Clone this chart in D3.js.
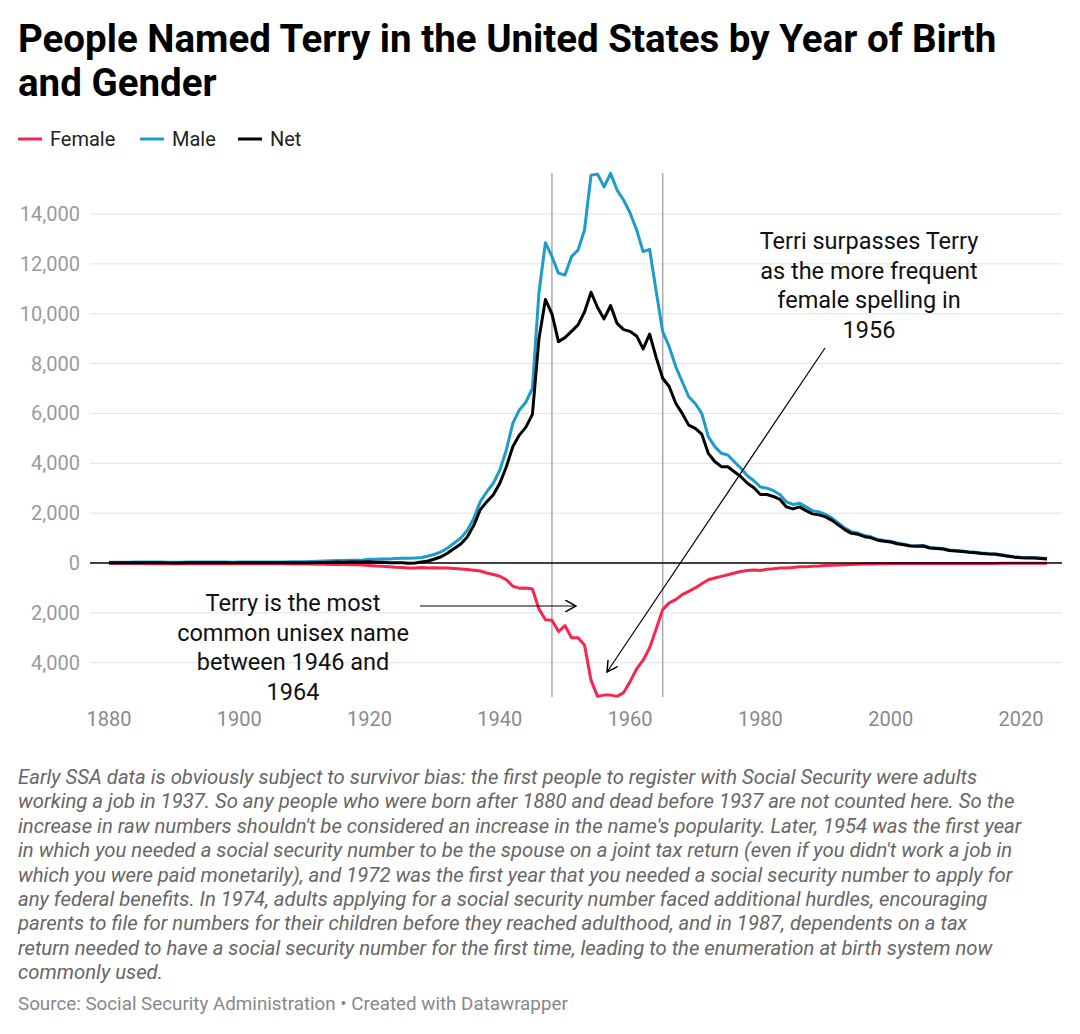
<!DOCTYPE html>
<html><head><meta charset="utf-8">
<script src="https://cdn.jsdelivr.net/npm/d3@7"></script>
<style>body{margin:0;background:#fff;font-family:Roboto,sans-serif}</style>
</head><body><svg id="c" width="1080" height="1034"></svg>
<script>
// data, one value per year 1880..2024
var startYear = 1880;
var male = [30,30,35,35,40,40,40,40,40,35, 35,35,40,40,40,40,40,40,40,35, 40,40,40,40,45,45,45,45,50,50,
  55,60,70,80,90,100,100,110,110,120, 150,150,160,160,180,190,190,200,220,280, 350,450,600,800,1000,1300,1800,2460,2860,3200,
  3730,4530,5610,6140,6450,7000,10830,12850,12290,11630, 11550,12290,12550,13360,15560,15600,15090,15630,14960,14560,
  14040,13360,12490,12580,10900,9280,8680,7880,7270,6670, 6400,6000,5070,4670,4400,4330,4060,3800,3500,3300,
  3050,3000,2900,2750,2450,2350,2400,2250,2100,2050, 1950,1800,1600,1400,1250,1200,1100,1050,950,900,
  870,800,750,700,690,700,620,600,580,520, 500,480,450,430,400,380,370,330,290,250, 230,220,220,200,180];
var female = [20,20,25,25,25,25,30,30,30,30, 30,30,30,30,30,30,30,30,30,30, 30,30,30,30,35,35,35,35,40,40,
  40,45,50,55,60,60,65,70,70,80, 100,120,130,150,170,180,200,200,180,200, 190,200,200,220,240,260,290,320,400,460,
  530,670,935,1010,1000,1040,1840,2280,2300,2750, 2510,3000,3000,3290,4700,5350,5300,5300,5350,5200,
  4750,4250,3900,3400,2650,1870,1600,1470,1270,1140, 1000,830,670,600,535,470,400,340,300,280,
  300,250,230,200,200,180,150,150,130,120, 100,90,80,70,60,50,45,40,35,30,
  25,25,20,20,20,20,20,20,20,20, 20,20,20,20,20,20,20,15,15,15, 15,15,15,15,15];
var net = [10,10,10,10,15,15,10,10,10,5, 5,5,10,10,10,10,10,10,10,5, 10,10,10,10,10,10,10,10,10,10,
  15,15,20,25,30,40,35,40,40,40, 50,30,30,10,10,10,-10,0,40,80, 160,250,400,580,760,1040,1510,2140,2460,2740,
  3200,3860,4675,5130,5450,5960,8990,10570,9990,8880, 9040,9290,9550,10070,10860,10250,9790,10330,9610,9360,
  9290,9110,8590,9180,8250,7410,7080,6410,6000,5530, 5400,5170,4400,4070,3865,3860,3660,3460,3200,3020,
  2750,2750,2670,2550,2250,2170,2250,2100,1970,1930, 1850,1710,1520,1330,1190,1150,1055,1010,915,870,
  845,775,730,680,670,680,600,580,560,500, 480,460,430,410,380,360,350,315,275,235, 215,205,205,185,165];
var yTicks = [-4000,-2000,0,2000,4000,6000,8000,10000,12000,14000];
var xTicks = [1880,1900,1920,1940,1960,1980,2000,2020];
var periodLines = [1948,1965];
var colors = {Female:"#f7264f", Male:"#1b9ccb", Net:"#000"};

var svg = d3.select("#c");
var x = d3.scaleLinear().domain([1880,2024]).range([109,1047]);
var y = d3.scaleLinear().domain([0,14000]).range([563,214]);

svg.append("text").attr("x",18).attr("y",52).attr("font-size",38.5).attr("font-weight",700).attr("fill","#000")
  .text("People Named Terry in the United States by Year of Birth");
svg.append("text").attr("x",18).attr("y",96).attr("font-size",38.5).attr("font-weight",700).attr("fill","#000")
  .text("and Gender");

// legend
var lx = [18,140,238];
["Female","Male","Net"].forEach(function(k,i){
  svg.append("line").attr("x1",lx[i]).attr("x2",lx[i]+24).attr("y1",139).attr("y2",139).attr("stroke",colors[k]).attr("stroke-width",3);
  svg.append("text").attr("x",lx[i]+32).attr("y",146).attr("font-size",20).attr("fill","#222").text(k);
});

// grid + y axis
yTicks.forEach(function(t){
  if (t!==0) svg.append("line").attr("x1",90).attr("x2",1062).attr("y1",y(t)).attr("y2",y(t)).attr("stroke","#e2e2e2");
  svg.append("text").attr("x",80).attr("y",y(t)+7).attr("text-anchor","end").attr("font-size",20).attr("fill","#9a9a9a")
    .text(d3.format(",")(Math.abs(t)));
});
xTicks.forEach(function(t){
  svg.append("text").attr("x",x(t)).attr("y",726).attr("text-anchor","middle").attr("font-size",20).attr("fill","#8a8a8a").text(t);
});
periodLines.forEach(function(t){
  svg.append("line").attr("x1",x(t)).attr("x2",x(t)).attr("y1",173).attr("y2",697).attr("stroke","#aaa").attr("stroke-width",1.5);
});

var line = d3.line().x(function(d,i){return x(startYear+i);}).y(function(d){return y(d);});
svg.append("path").datum(female.map(function(v){return -v;})).attr("d",line).attr("fill","none").attr("stroke",colors.Female).attr("stroke-width",3).attr("stroke-linejoin","round");
svg.append("path").datum(male).attr("d",line).attr("fill","none").attr("stroke",colors.Male).attr("stroke-width",3).attr("stroke-linejoin","round");
svg.append("path").datum(net).attr("d",line).attr("fill","none").attr("stroke",colors.Net).attr("stroke-width",3).attr("stroke-linejoin","round");
svg.append("line").attr("x1",90).attr("x2",1062).attr("y1",y(0)).attr("y2",y(0)).attr("stroke","#000").attr("stroke-width",1.5);

// annotations
svg.append("defs").append("marker").attr("id","ah").attr("viewBox","0 0 10 10").attr("refX",9).attr("refY",5)
  .attr("markerWidth",12).attr("markerHeight",12).attr("markerUnits","userSpaceOnUse").attr("orient","auto")
  .append("path").attr("d","M0,0 L9,5 L0,10").attr("fill","none").attr("stroke","#000").attr("stroke-width",1.2);
function note(lines, cx, y0){
  lines.forEach(function(s,i){
    svg.append("text").attr("x",cx).attr("y",y0+i*29.5).attr("text-anchor","middle").attr("font-size",23.5).attr("fill","#111").text(s);
  });
}
note(["Terri surpasses Terry","as the more frequent","female spelling in","1956"],869,249);
note(["Terry is the most","common unisex name","between 1946 and","1964"],293,611);
svg.append("line").attr("x1",825).attr("y1",348).attr("x2",607).attr("y2",672).attr("stroke","#000").attr("stroke-width",1.2).attr("marker-end","url(#ah)");
svg.append("line").attr("x1",420).attr("y1",606).attr("x2",576).attr("y2",606).attr("stroke","#000").attr("stroke-width",1.2).attr("marker-end","url(#ah)");

// notes
var foot = ["Early SSA data is obviously subject to survivor bias: the first people to register with Social Security were adults",
"working a job in 1937. So any people who were born after 1880 and dead before 1937 are not counted here. So the",
"increase in raw numbers shouldn't be considered an increase in the name's popularity. Later, 1954 was the first year",
"in which you needed a social security number to be the spouse on a joint tax return (even if you didn't work a job in",
"which you were paid monetarily), and 1972 was the first year that you needed a social security number to apply for",
"any federal benefits. In 1974, adults applying for a social security number faced additional hurdles, encouraging",
"parents to file for numbers for their children before they reached adulthood, and in 1987, dependents on a tax",
"return needed to have a social security number for the first time, leading to the enumeration at birth system now",
"commonly used."];
foot.forEach(function(s,i){
  svg.append("text").attr("x",18).attr("y",784+i*24.4).attr("font-size",20.3).attr("font-style","italic").attr("fill","#666").text(s);
});
svg.append("text").attr("x",18).attr("y",1010).attr("font-size",18.8).attr("fill","#888").text("Source: Social Security Administration • Created with Datawrapper");
</script></body></html>
